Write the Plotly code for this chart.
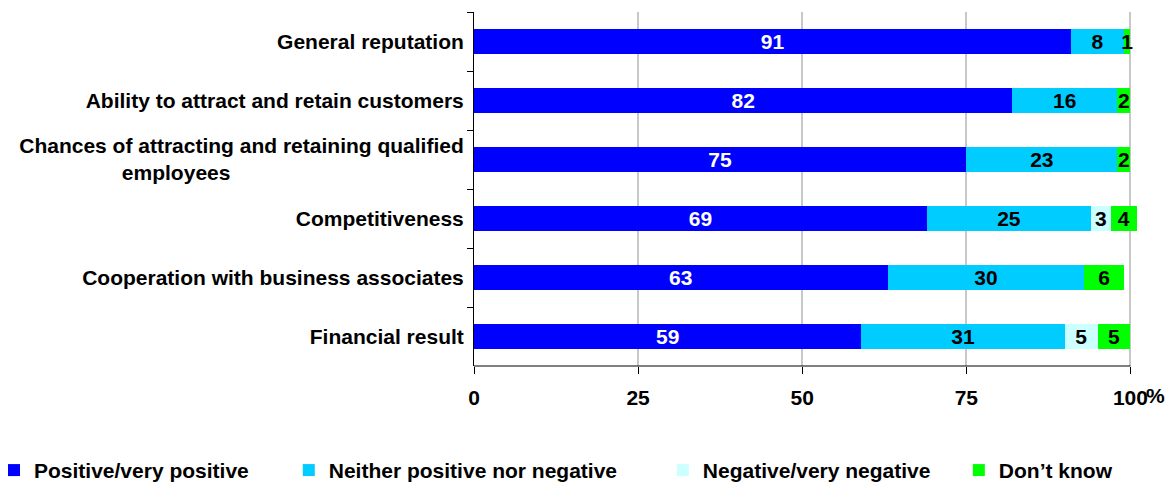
import plotly.graph_objects as go

categories = [
    "General reputation",
    "Ability to attract and retain customers",
    "Chances of attracting and retaining qualified<br>employees" + "\u00a0" * 40,
    "Competitiveness",
    "Cooperation with business associates",
    "Financial result",
]
positive = [91, 82, 75, 69, 63, 59]
neither = [8, 16, 23, 25, 30, 31]
negative = [None, None, None, 3, None, 5]
dont_know = [1, 2, 2, 4, 6, 5]

series_names = ["Positive/very positive", "Neither positive nor negative",
                "Negative/very negative", "Don\u2019t know"]
legend_pad = [6, 7, 4, 0]
series_values = [positive, neither, negative, dont_know]
colors = ["#0000FF", "#00CCFF", "#CCFFFF", "#00FF00"]
text_colors = ["white", "black", "black", "black"]
x_ticks = [0, 25, 50, 75, 100]
x_ticktext = ["0", "25", "50", "75", "100"]

FONT = "Liberation Sans, Arial, sans-serif"
FS = 21

fig = go.Figure()
for name, pad, vals, col, tc in zip(series_names, legend_pad, series_values, colors, text_colors):
    fig.add_trace(go.Bar(
        y=categories, x=vals, name=name + "\u00a0" * pad, orientation="h",
        marker=dict(color=col, line=dict(width=0)),
        text=[("" if v is None else str(v)) for v in vals],
        textposition="inside", insidetextanchor="middle",
        textangle=0, constraintext="none",
        textfont=dict(color=tc, size=FS, family=FONT, weight="bold"),
        hoverinfo="skip",
    ))

fig.update_layout(
    barmode="stack",
    bargap=0.59,
    width=1166, height=482,
    margin=dict(l=474, r=29.4, t=12, b=116, autoexpand=False),
    plot_bgcolor="white", paper_bgcolor="white",
    font=dict(family=FONT, size=FS, color="black", weight="bold"),
    showlegend=True,
    legend=dict(
        orientation="h", x=-0.724, xanchor="left", y=-0.295, yanchor="middle",
        font=dict(family=FONT, size=FS, color="black", weight="bold"),
        traceorder="normal", itemwidth=30,
    ),
    xaxis=dict(
        range=[0, 101], tickvals=x_ticks, ticktext=x_ticktext,
        showgrid=True, gridcolor="#C8C8C8", gridwidth=2,
        zeroline=False, showline=False,
        ticks="outside", ticklen=7, tickcolor="black", tickwidth=1,
        ticklabelstandoff=6,
        tickfont=dict(family=FONT, size=FS, color="black", weight="bold"),
    ),
    yaxis=dict(
        autorange="reversed", type="category",
        showline=True, linecolor="black", linewidth=1,
        ticks="outside", ticklen=6, tickcolor="black", tickson="boundaries",
        showgrid=False, ticklabelstandoff=5,
        tickfont=dict(family=FONT, size=FS, color="black", weight="bold"),
    ),
)

fig.add_shape(type="line", xref="x", yref="paper", x0=0, x1=100, y0=0, y1=0,
              line=dict(color="black", width=1))
fig.add_annotation(text="%", xref="x", yref="paper", x=100, y=0,
                   xanchor="right", yanchor="middle",
                   xshift=37, yshift=-29, showarrow=False,
                   font=dict(family=FONT, size=FS, color="black", weight="bold"))

fig.write_html("out.html")
